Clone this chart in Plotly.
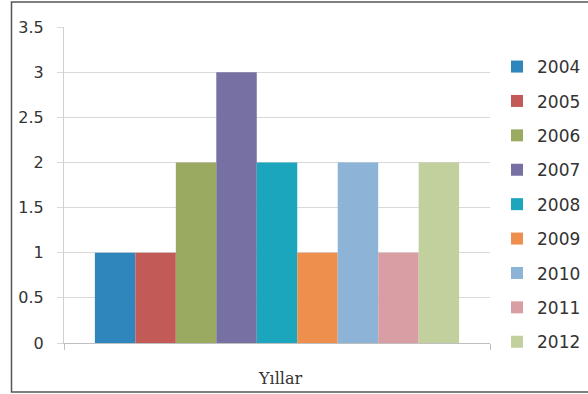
import plotly.graph_objects as go

categories = ["Yıllar"]
years = ["2004", "2005", "2006", "2007", "2008", "2009", "2010", "2011", "2012"]
values = [1, 1, 2, 3, 2, 1, 2, 1, 2]
colors = ["#2e86bc", "#c25b57", "#9aaa61", "#7670a3", "#1ca6bd",
          "#ef8f4e", "#8db4d7", "#d99ea4", "#c2d09e"]
y_ticks = [0, 0.5, 1, 1.5, 2, 2.5, 3, 3.5]

fig = go.Figure()
for yr, v, c in zip(years, values, colors):
    fig.add_trace(go.Bar(x=categories, y=[v], name=yr, marker_color=c,
                         marker_line_width=0, legendgroup=yr))

W, H = 588, 394
l, r, t, b = 64, 98, 27, 51
pw, ph = W - l - r, H - t - b

def px_x(p):
    return (p - l) / pw

def px_y(p):
    return (H - b - p) / ph

fig.update_layout(
    width=W, height=H,
    margin=dict(l=l, r=r, t=t, b=b, autoexpand=False),
    paper_bgcolor="white", plot_bgcolor="white",
    barmode="group", bargap=0.145, bargroupgap=0,
    font=dict(family="DejaVu Sans", size=16, color="#333333"),
    showlegend=True,
    legend=dict(x=px_x(497), xanchor="left", y=px_y(49), yanchor="top",
                font=dict(size=17, color="#333333"),
                tracegroupgap=9.3, itemwidth=30,
                bgcolor="rgba(0,0,0,0)"),
    xaxis=dict(showticklabels=False, ticks="outside", tickson="boundaries",
               ticklen=6, tickcolor="#bfbfbf", showline=True,
               linecolor="#bfbfbf", linewidth=1, showgrid=False,
               zeroline=False),
    yaxis=dict(range=[0, 3.5], tickvals=y_ticks,
               ticktext=[f"{v:g}" for v in y_ticks],
               showgrid=True, gridcolor="#d9d9d9", gridwidth=1,
               ticks="outside", ticklen=6, tickcolor="#d9d9d9",
               ticklabelstandoff=10,
               showline=True, linecolor="#d0d0d0", linewidth=1,
               zeroline=False, tickfont=dict(size=16, color="#333333")),
    annotations=[dict(text="Yıllar", xref="paper", yref="paper",
                      x=px_x(280), y=px_y(378), xanchor="center", yanchor="middle",
                      showarrow=False,
                      font=dict(family="DejaVu Serif", size=16, color="#333333"))],
    shapes=[dict(type="rect", xref="paper", yref="paper",
                 x0=px_x(11.5), x1=px_x(600), y0=px_y(392), y1=px_y(2),
                 line=dict(color="#555555", width=1.5), layer="below")],
)

fig.write_html("out.html")
